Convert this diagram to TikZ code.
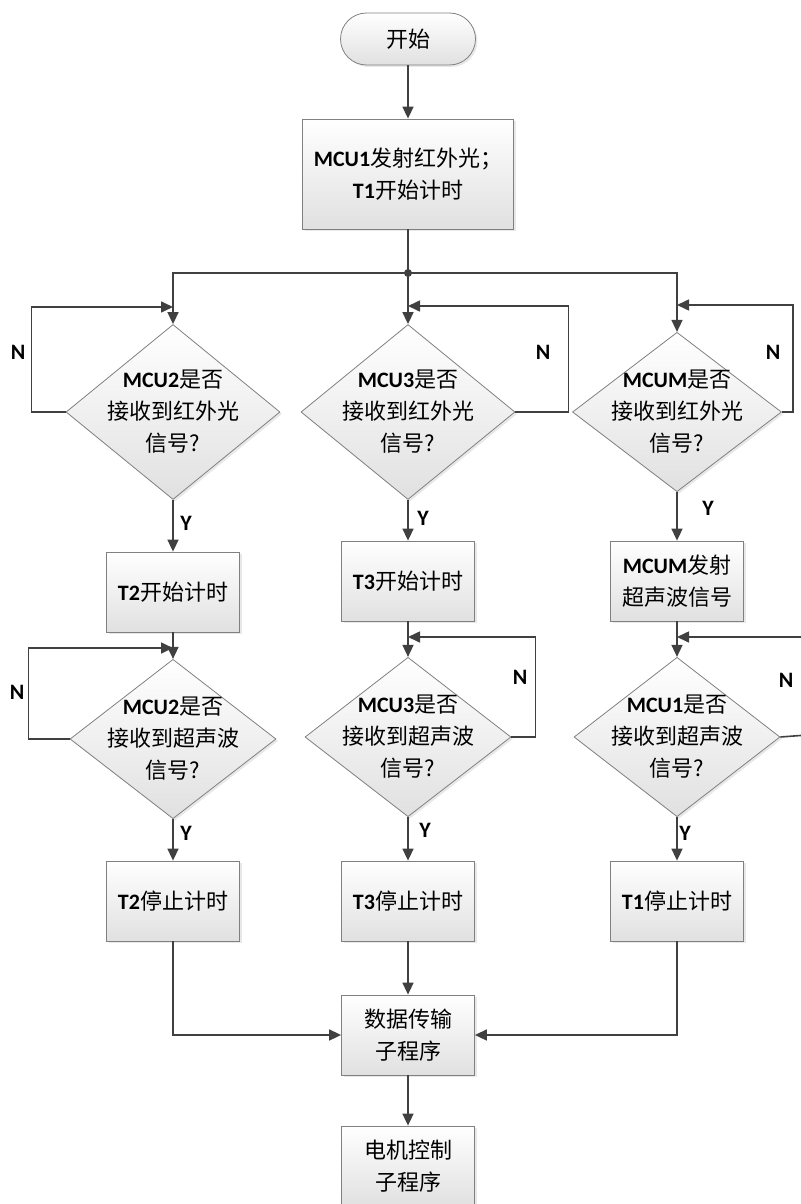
\documentclass[tikz,border=0pt]{standalone}
\usepackage{fontspec}
\setmainfont{Carlito}
\newfontfamily\cjk{Noto Sans CJK SC}
\usetikzlibrary{shapes.geometric,arrows.meta,shadows}
\newcommand{\en}[1]{{\rmfamily\bfseries #1}}
\definecolor{linie}{HTML}{404040}
\definecolor{rand}{HTML}{808080}

\begin{document}
\begin{tikzpicture}[x=1pt,y=-1pt,
	font=\cjk\fontsize{22}{32}\selectfont,
	schatten/.style={drop shadow={shadow xshift=2pt,shadow yshift=-2pt,opacity=0.18}},
	kasten/.style={rectangle,draw=rand,line width=0.8pt,top color=white,bottom color=black!12,minimum width=133pt,minimum height=80pt,inner sep=0pt,align=center,schatten},
	startfeld/.style={kasten,rounded corners=26pt,minimum width=135pt,minimum height=52pt},
	raute/.style={diamond,draw=rand,line width=0.8pt,top color=white,bottom color=black!12,minimum width=214pt,minimum height=175pt,inner sep=-14pt,align=center,schatten},
	rauteKlein/.style={raute,minimum width=206pt,minimum height=150pt},
	verbindung/.style={draw=linie,line width=1.6pt},
	pfeil/.style={verbindung,-{Triangle[length=12pt,width=11pt]}},
	marke/.style={font=\rmfamily\bfseries\fontsize{22}{24}\selectfont,text=black,inner sep=0pt}]
	\useasboundingbox (0,0) rectangle (800,1204);
	\def\xLinks{173}
	\def\xMitte{408}
	\def\xRechts{677}
	%
	\node[startfeld] (start) at (\xMitte,39) {开始};
	\node[kasten,minimum width=211pt,minimum height=110pt] (mcu1) at (\xMitte,174) {\en{MCU1}发射红外光；\\\en{T1}开始计时};
	\coordinate (knoten) at (\xMitte,273);
	%
	\node[raute] (fragA) at (\xLinks,412) {\en{MCU2}是否\\接收到红外光\\信号?};
	\node[raute] (fragB) at (\xMitte,412) {\en{MCU3}是否\\接收到红外光\\信号?};
	\node[raute,minimum width=209pt,minimum height=158pt] (fragC) at (\xRechts,412) {\en{MCUM}是否\\接收到红外光\\信号?};
	%
	\node[kasten] (t2start) at (\xLinks,592) {\en{T2}开始计时};
	\node[kasten] (t3start) at (\xMitte,581) {\en{T3}开始计时};
	\node[kasten] (mcumSende) at (\xRechts,581) {\en{MCUM}发射\\超声波信号};
	%
	\node[rauteKlein] (fragD) at (\xLinks,739) {\en{MCU2}是否\\接收到超声波\\信号?};
	\node[rauteKlein] (fragE) at (\xMitte,737) {\en{MCU3}是否\\接收到超声波\\信号?};
	\node[rauteKlein] (fragF) at (\xRechts,737) {\en{MCU1}是否\\接收到超声波\\信号?};
	%
	\node[kasten] (t2stop) at (\xLinks,901) {\en{T2}停止计时};
	\node[kasten] (t3stop) at (\xMitte,901) {\en{T3}停止计时};
	\node[kasten] (t1stop) at (\xRechts,901) {\en{T1}停止计时};
	%
	\node[kasten] (daten) at (\xMitte,1035) {数据传输\\子程序};
	\node[kasten] (motor) at (\xMitte,1166) {电机控制\\子程序};
	%
	\coordinate (schleifeA) at (\xLinks,307);
	\coordinate (schleifeB) at (\xMitte,306);
	\coordinate (schleifeC) at (\xRechts,305);
	\coordinate (schleifeD) at (\xLinks,648);
	\coordinate (schleifeE) at (\xMitte,637);
	\coordinate (schleifeF) at (\xRechts,637);
	%
	\draw[pfeil] (start) -- (mcu1);
	\draw[verbindung] (mcu1) -- (knoten);
	\fill[linie] (knoten) circle (4pt);
	\draw[pfeil] (knoten) -| (fragA);
	\draw[pfeil] (knoten) -- (fragB);
	\draw[pfeil] (knoten) -| (fragC);
	%
	\draw[pfeil] (fragA.west) -- ++(-34,0) |- (schleifeA);
	\draw[pfeil] (fragB.east) -- ++(53,0) |- (schleifeB);
	\draw[pfeil] (fragC.east) -- ++(11,0) |- (schleifeC);
	\node[marke] (nA) at (18,352) {N};
	\node[marke] (nB) at (543,352) {N};
	\node[marke] (nC) at (773,352) {N};
	%
	\draw[pfeil] (fragA) -- (t2start);
	\draw[pfeil] (fragB) -- (t3start);
	\draw[pfeil] (fragC) -- (mcumSende);
	\node[marke] (yA) at (186,523) {Y};
	\node[marke] (yB) at (423,518) {Y};
	\node[marke] (yC) at (708,508) {Y};
	%
	\draw[pfeil] (t2start) -- (fragD);
	\draw[pfeil] (t3start) -- (fragE);
	\draw[pfeil] (mcumSende) -- (fragF);
	\draw[pfeil] (fragD.west) -- ++(-41,0) |- (schleifeD);
	\draw[pfeil] (fragE.east) -- ++(24,0) |- (schleifeE);
	\draw[pfeil] (fragF.east) -- ++(40,-3) |- (schleifeF);
	\node[marke] (nD) at (17,692) {N};
	\node[marke] (nE) at (520,677) {N};
	\node[marke] (nF) at (786,680) {N};
	%
	\draw[pfeil] (fragD) -- (t2stop);
	\draw[pfeil] (fragE) -- (t3stop);
	\draw[pfeil] (fragF) -- (t1stop);
	\node[marke] (yD) at (186,833) {Y};
	\node[marke] (yE) at (425,830) {Y};
	\node[marke] (yF) at (685,833) {Y};
	%
	\draw[pfeil] (t2stop) |- (daten);
	\draw[pfeil] (t3stop) -- (daten);
	\draw[pfeil] (t1stop) |- (daten);
	\draw[pfeil] (daten) -- (motor);
\end{tikzpicture}
\end{document}
